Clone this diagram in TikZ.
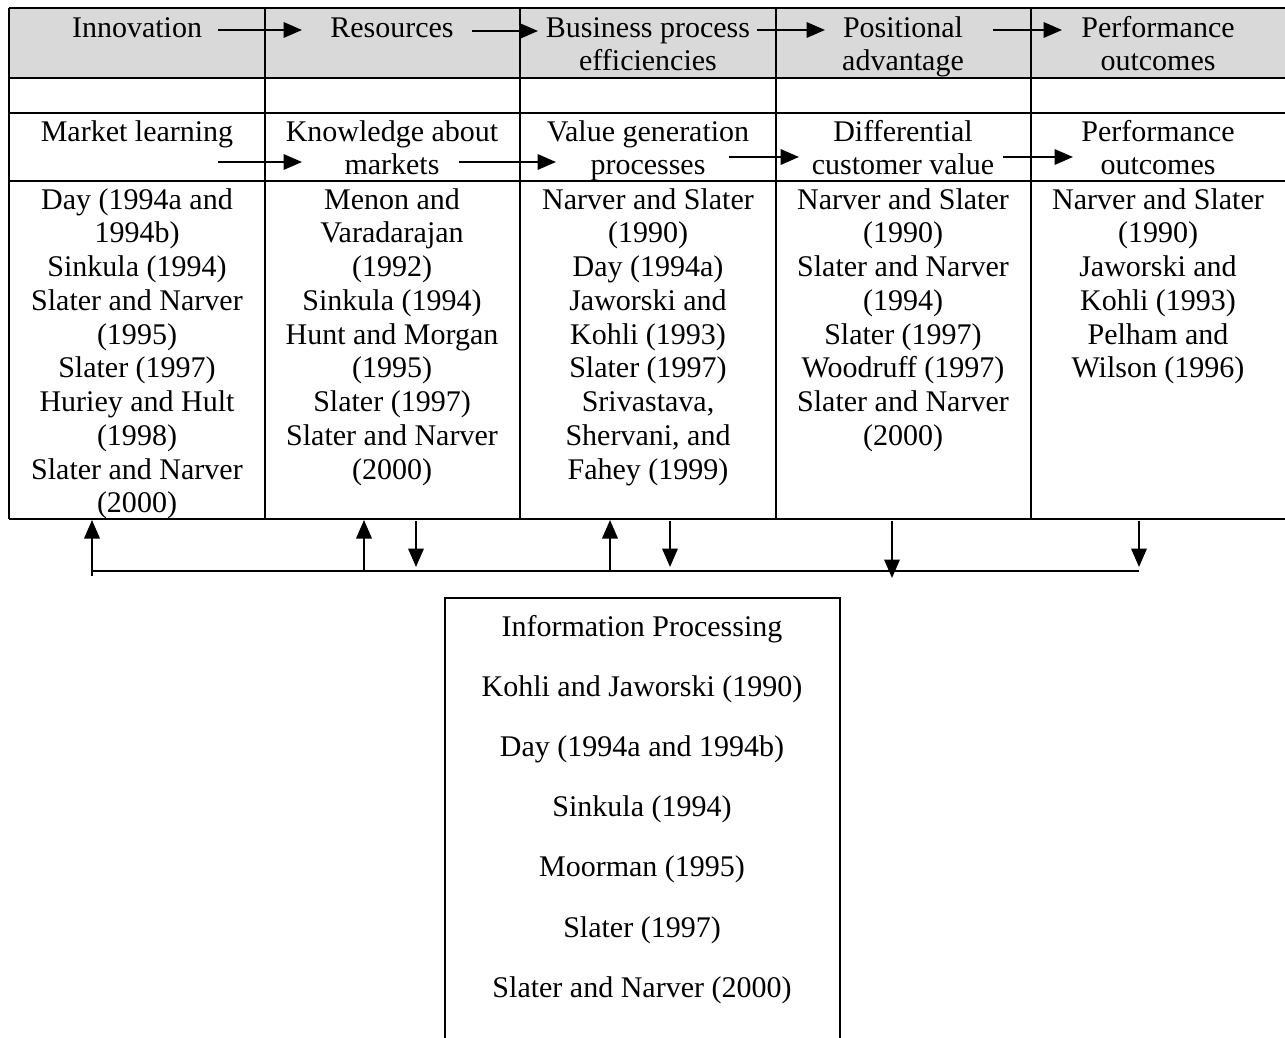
\documentclass[tikz,border=0pt]{standalone}
\usepackage{fontspec}
\setmainfont{Liberation Serif}
\usetikzlibrary{arrows.meta}
\definecolor{headgray}{RGB}{217,217,217}
\begin{document}
\begin{tikzpicture}[x=0.4pt,y=-0.4pt,
  rule/.style={line width=0.8pt},
  flow/.style={line width=0.8pt,-{Triangle[length=7.4pt,width=6.2pt]}},
  cell/.style={anchor=north,inner sep=0pt,align=center,
    font=\fontsize{12}{13.5}\selectfont},
  lit/.style={anchor=base,inner sep=0pt,font=\fontsize{12}{14}\selectfont}]
\useasboundingbox (0,0) rectangle (1285,1038);

% shaded header row
\fill[headgray] (9,8) rectangle (1290,78);

% table rules
\foreach \y in {8,78,113,181,519}
  \draw[rule] (9,\y) -- (1290,\y);
\foreach \x in {9,265,520,776,1031}
  \draw[rule] (\x,8) -- (\x,519);

% header row
\node[cell] (h1) at (137,13)  {\strut Innovation};
\node[cell] (h2) at (392,13)  {\strut Resources};
\node[cell] (h3) at (648,13)  {\strut Business process\\efficiencies};
\node[cell] (h4) at (903,13)  {\strut Positional\\advantage};
\node[cell] (h5) at (1158,13) {\strut Performance\\outcomes};

% construct row
\node[cell] (c1) at (137,117)  {\strut Market learning};
\node[cell] (c2) at (392,117)  {\strut Knowledge about\\markets};
\node[cell] (c3) at (648,117)  {\strut Value generation\\processes};
\node[cell] (c4) at (903,117)  {\strut Differential\\customer value};
\node[cell] (c5) at (1158,117) {\strut Performance\\outcomes};

% references row
\node[cell] (r1) at (137,185) {\strut Day (1994a and\\1994b)\\Sinkula (1994)\\Slater and Narver\\(1995)\\Slater (1997)\\Huriey and Hult\\(1998)\\Slater and Narver\\(2000)};
\node[cell] (r2) at (392,185) {\strut Menon and\\Varadarajan\\(1992)\\Sinkula (1994)\\Hunt and Morgan\\(1995)\\Slater (1997)\\Slater and Narver\\(2000)};
\node[cell] (r3) at (648,185) {\strut Narver and Slater\\(1990)\\Day (1994a)\\Jaworski and\\Kohli (1993)\\Slater (1997)\\Srivastava,\\Shervani, and\\Fahey (1999)};
\node[cell] (r4) at (903,185) {\strut Narver and Slater\\(1990)\\Slater and Narver\\(1994)\\Slater (1997)\\Woodruff (1997)\\Slater and Narver\\(2000)};
\node[cell] (r5) at (1158,185) {\strut Narver and Slater\\(1990)\\Jaworski and\\Kohli (1993)\\Pelham and\\Wilson (1996)};

% header flow arrows
\coordinate (ha1) at (218,30);  \coordinate (hb1) at (302,30);
\coordinate (ha2) at (472,31);  \coordinate (hb2) at (538,31);
\coordinate (ha3) at (757,30);  \coordinate (hb3) at (825,30);
\coordinate (ha4) at (993,30);  \coordinate (hb4) at (1062,30);
\foreach \i in {1,...,4} \draw[flow] (ha\i) -- (hb\i);

% construct flow arrows
\coordinate (ca1) at (218,162);  \coordinate (cb1) at (302,162);
\coordinate (ca2) at (459,162);  \coordinate (cb2) at (556,162);
\coordinate (ca3) at (729,157);  \coordinate (cb3) at (799,157);
\coordinate (ca4) at (1003,157); \coordinate (cb4) at (1073,157);
\foreach \i in {1,...,4} \draw[flow] (ca\i) -- (cb\i);

% feedback loop under the table
\coordinate (fbL) at (92,571);
\coordinate (fbR) at (1139,571);
\draw[rule] (92,576) -- (fbL) -- (fbR);
\foreach \x in {92,364,610}
  \draw[flow] (\x,571) -- (\x,520);
\foreach \x in {416,670,1139}
  \draw[flow] (\x,521) -- (\x,567);
\draw[flow] (892,521) -- (892,578);

% information processing box
\draw[line width=0.7pt] (445,1045) -- (445,598) -- (840,598) -- (840,1045);
\foreach \t [count=\k from 0] in {Information Processing,Kohli and Jaworski (1990),Day (1994a and 1994b),Sinkula (1994),Moorman (1995),Slater (1997),Slater and Narver (2000)}
  \node[lit] (ip\k) at (642,636+60.2*\k) {\t};
\end{tikzpicture}
\end{document}
